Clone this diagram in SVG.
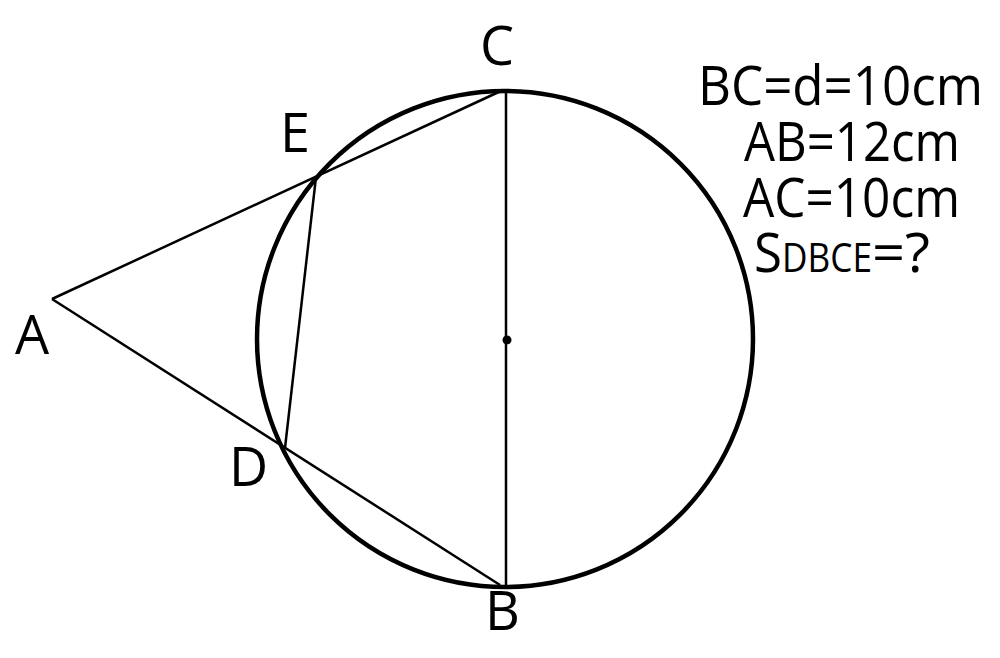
<svg xmlns="http://www.w3.org/2000/svg" width="1000" height="658" viewBox="0 0 1000 658">
<style>
.lbl{font-family:"Open Sans","Liberation Sans",sans-serif;font-size:54px;fill:#000}
.eq{font-family:"Open Sans","Liberation Sans",sans-serif;font-size:54px;fill:#000}
.ln{stroke:#000;stroke-width:2.5;fill:none}
</style>
<rect width="1000" height="658" fill="#fff"/>
<g id="circle"><circle cx="505" cy="339" r="248" fill="none" stroke="#000" stroke-width="4.5"/></g>
<g id="connectors">
<line class="ln" x1="506" y1="90" x2="506" y2="586"/>
<line class="ln" x1="52" y1="299" x2="500" y2="585"/>
<line class="ln" x1="52" y1="299" x2="503" y2="90"/>
<line class="ln" x1="316" y1="177" x2="285" y2="448"/>
</g>
<g id="center"><circle cx="507" cy="340" r="4.5" fill="#000"/></g>
<g id="A"><text class="lbl" x="15" y="354">A</text></g>
<g id="B"><text class="lbl" x="485" y="630">B</text></g>
<g id="C"><text class="lbl" x="480" y="65">C</text></g>
<g id="D"><text class="lbl" x="229" y="486">D</text></g>
<g id="E"><text class="lbl" x="280" y="152">E</text></g>
<g id="given">
<text class="eq" x="698" y="105" textLength="285" lengthAdjust="spacingAndGlyphs">BC=d=10cm</text>
<text class="eq" x="744" y="161" textLength="216" lengthAdjust="spacingAndGlyphs">AB=12cm</text>
<text class="eq" x="743" y="217" textLength="217" lengthAdjust="spacingAndGlyphs">AC=10cm</text>
<text class="eq" x="754" y="272"><tspan textLength="28" lengthAdjust="spacingAndGlyphs">S</tspan><tspan font-size="40" textLength="90" lengthAdjust="spacingAndGlyphs">DBCE</tspan><tspan textLength="58" lengthAdjust="spacingAndGlyphs">=?</tspan></text>
</g>
</svg>
